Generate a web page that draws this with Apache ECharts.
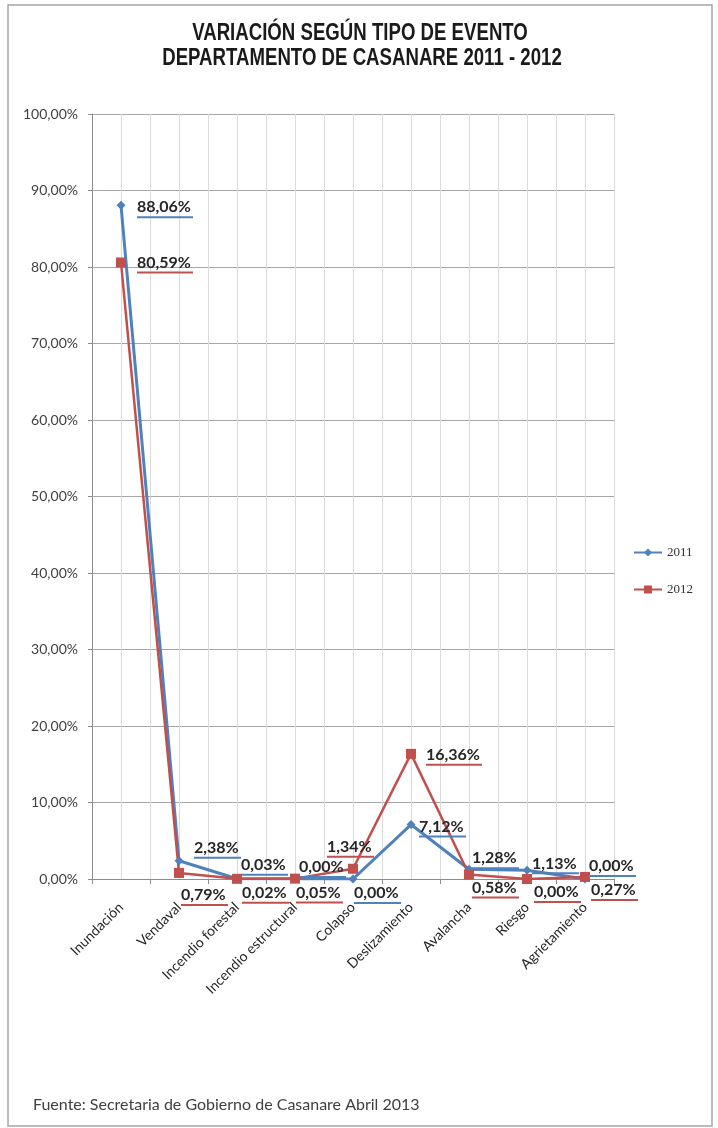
<!DOCTYPE html>
<html>
<head>
<meta charset="utf-8">
<script src="https://cdn.jsdelivr.net/npm/echarts@6/dist/echarts.min.js"></script>
<style>
html,body{margin:0;padding:0;background:#fff;}
#chart{width:718px;height:1128px;}
</style>
</head>
<body>
<div id="chart"></div>
<script>
const titleLines = ['VARIACIÓN SEGÚN TIPO DE EVENTO', 'DEPARTAMENTO DE CASANARE 2011 - 2012'];
const categories = ['Inundación', 'Vendaval', 'Incendio forestal', 'Incendio estructural', 'Colapso', 'Deslizamiento', 'Avalancha', 'Riesgo', 'Agrietamiento'];
const seriesNames = ['2011', '2012'];
const values2011 = [88.06, 2.38, 0.03, 0.00, 0.00, 7.12, 1.28, 1.13, 0.00];
const values2012 = [80.59, 0.79, 0.02, 0.05, 1.34, 16.36, 0.58, 0.00, 0.27];
const yMin = 0, yMax = 100, yStep = 10;
const sourceText = 'Fuente: Secretaria de Gobierno de Casanare Abril 2013';

// label placement (style only): [dx of text left edge, dy of text centre] from the point
const off2011 = [[16,2],[15,-13],[4,-14],[4,-12],[1,14],[8,2],[3,-11],[5,-7],[4,-13]];
const off2012 = [[16,0],[2,22],[5,14],[1,14],[-26,-22],[15,1],[3,13],[7,13],[6,13]];

const BLUE = '#4F81BD', RED = '#C0504D';
const fmt = v => v.toFixed(2).replace('.', ',') + '%';
const LABEL_FONT = 'bold 16px Lato';
const measureCtx = document.createElement('canvas').getContext('2d');
function textWidth(s) { measureCtx.font = LABEL_FONT; return measureCtx.measureText(s).width; }

function buildData(vals, offs, color) {
  return vals.map((v, i) => {
    const w = Math.round(textWidth(fmt(v))) + 2;
    return {
      value: v,
      label: {
        show: true,
        position: 'inside',
        align: 'left',
        verticalAlign: 'middle',
        offset: [offs[i][0], offs[i][1] + 2],
        formatter: p => '{t|' + fmt(p.value) + '}\n{u| }',
        rich: {
          t: {fontFamily: 'Lato', fontWeight: 'bold', fontSize: 16, color: '#262626', lineHeight: 16},
          u: {width: w, height: 2, lineHeight: 4, backgroundColor: color}
        }
      }
    };
  });
}

const titleFont = {fontFamily: "'Liberation Sans', Arial, sans-serif", fontWeight: 'bold', fontSize: 23, fill: '#1a1a1a', align: 'center', verticalAlign: 'middle'};

const chart = echarts.init(document.getElementById('chart'), null, {renderer: 'canvas'});
chart.setOption({
  animation: false,
  backgroundColor: '#fff',
  legend: {
    data: seriesNames,
    orient: 'vertical',
    left: 628,
    top: 541,
    itemWidth: 28,
    itemHeight: 10,
    itemGap: 24,
    textStyle: {fontFamily: "'Liberation Serif', serif", fontSize: 13, color: '#333'}
  },
  grid: {left: 92, right: 104, top: 114, bottom: 249},
  xAxis: [{
    type: 'category',
    data: categories,
    boundaryGap: true,
    axisLine: {lineStyle: {color: '#8c8c8c', width: 1}},
    axisTick: {show: true, length: 5, lineStyle: {color: '#8c8c8c'}},
    axisLabel: {rotate: 45, margin: 26, fontFamily: 'Lato', fontSize: 14, color: '#262626', interval: 0},
    splitLine: {show: false}
  }, {
    type: 'value',
    min: 0, max: 18, interval: 1,
    position: 'top',
    axisLine: {show: false}, axisTick: {show: false}, axisLabel: {show: false},
    splitLine: {show: true, lineStyle: {color: '#dadada', width: 1}}
  }],
  yAxis: {
    type: 'value',
    min: yMin, max: yMax, interval: yStep,
    axisLine: {show: true, lineStyle: {color: '#8c8c8c'}},
    axisTick: {show: true, length: 4, lineStyle: {color: '#8c8c8c'}},
    axisLabel: {formatter: v => fmt(v), fontFamily: 'Lato', fontSize: 14, color: '#404040', margin: 14},
    splitLine: {show: true, lineStyle: {color: '#a6a6a6', width: 1}}
  },
  series: [{
    name: seriesNames[0],
    type: 'line',
    xAxisIndex: 0,
    data: buildData(values2011, off2011, BLUE),
    symbol: 'diamond',
    symbolSize: 9,
    lineStyle: {color: BLUE, width: 3},
    itemStyle: {color: BLUE}
  }, {
    name: seriesNames[1],
    type: 'line',
    xAxisIndex: 0,
    data: buildData(values2012, off2012, RED),
    symbol: 'rect',
    symbolSize: 10,
    lineStyle: {color: RED, width: 2.5},
    itemStyle: {color: RED}
  }],
  graphic: [{
    type: 'rect',
    shape: {x: 8, y: 5, width: 704, height: 1121},
    style: {fill: 'none', stroke: '#a6a6a6', lineWidth: 1.5},
    silent: true
  }, {
    type: 'text', x: 360, y: 34, scaleX: 0.81,
    style: Object.assign({text: titleLines[0]}, titleFont)
  }, {
    type: 'text', x: 362, y: 59, scaleX: 0.81,
    style: Object.assign({text: titleLines[1]}, titleFont)
  }, {
    type: 'text',
    x: 33,
    y: 1105,
    style: {text: sourceText, fontFamily: 'Lato', fontSize: 16, fill: '#404040', verticalAlign: 'middle'}
  }]
});
</script>
</body>
</html>
